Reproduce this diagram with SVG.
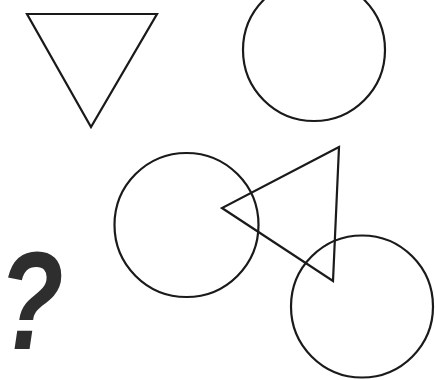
<svg xmlns="http://www.w3.org/2000/svg" width="435" height="380" viewBox="0 0 435 380">
<style>
.s{fill:none;stroke:#1a1a1a;stroke-width:2.2;stroke-linejoin:miter}
.q{font-family:"Liberation Sans",sans-serif;font-weight:bold;font-style:italic;fill:#2e2e2e}
</style>
<rect width="435" height="380" fill="#ffffff"/>
<g id="triangle-top"><polygon class="s" points="27,14 157,14 91,127"/></g>
<g id="circle-top"><circle class="s" cx="314" cy="50" r="71"/></g>
<g id="circle-mid"><circle class="s" cx="186.5" cy="225" r="72"/></g>
<g id="triangle-mid"><polygon class="s" points="339,147 222,208 333,281"/></g>
<g id="circle-bottom"><circle class="s" cx="362" cy="306.5" r="71"/></g>
<g id="question"><text class="q" x="0" y="0" transform="translate(31,349) scale(0.76,1)" text-anchor="middle" font-size="140">?</text></g>
</svg>
